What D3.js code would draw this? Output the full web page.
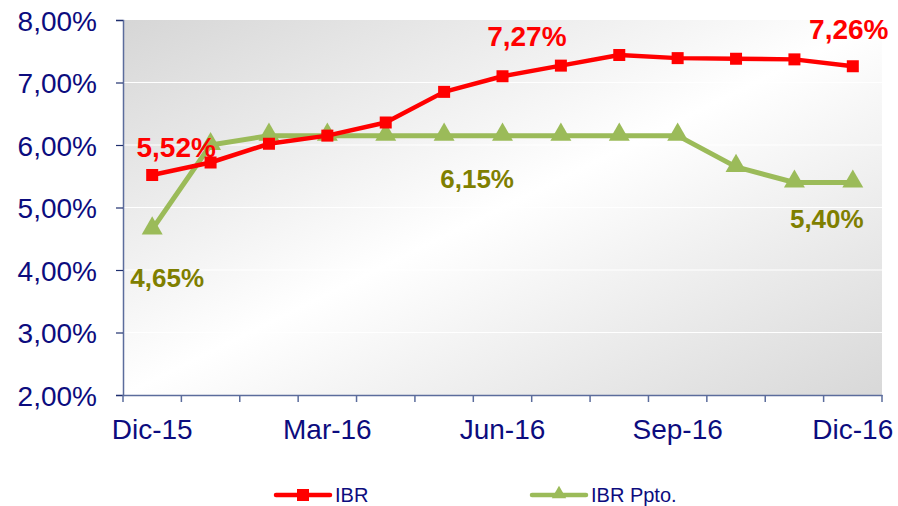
<!DOCTYPE html>
<html>
<head>
<meta charset="utf-8">
<script src="https://cdn.jsdelivr.net/npm/d3@7"></script>
<style>
  body { margin: 0; background: #fff; }
  svg { display: block; font-family: Arial, "Liberation Sans", sans-serif; }
</style>
</head>
<body>
<div id="chart"></div>
<script>
// data
var months = ['Dic-15', 'Ene-16', 'Feb-16', 'Mar-16', 'Abr-16', 'May-16', 'Jun-16',
              'Jul-16', 'Ago-16', 'Sep-16', 'Oct-16', 'Nov-16', 'Dic-16'];
var shownMonths = ['Dic-15', 'Mar-16', 'Jun-16', 'Sep-16', 'Dic-16'];
var ibr = [5.52, 5.72, 6.02, 6.15, 6.36, 6.85, 7.10, 7.27, 7.44, 7.39, 7.38, 7.37, 7.26];
var ibrPpto = [4.65, 6.00, 6.15, 6.15, 6.15, 6.15, 6.15, 6.15, 6.15, 6.15, 5.65, 5.40, 5.40];
var yTicks = [2, 3, 4, 5, 6, 7, 8];

// value labels: [month index, text]
var ibrLabels = [[0, '5,52%'], [7, '7,27%'], [12, '7,26%']];
var pptoLabels = [[0, '4,65%'], [5, '6,15%'], [12, '5,40%']];

var W = 898, H = 506;
var mLeft = 123, mRight = 882, mTop = 20, mBottom = 395;

var svg = d3.select('#chart').append('svg')
  .attr('width', W)
  .attr('height', H);

var x = d3.scaleBand().domain(months).range([mLeft, mRight]).padding(0);
var y = d3.scaleLinear().domain([2, 8]).range([mBottom, mTop]);
var fmt = v => v.toFixed(2).replace('.', ',') + '%';

// background gradient
var defs = svg.append('defs');
var grad = defs.append('linearGradient')
  .attr('id', 'bg')
  .attr('x1', 0).attr('y1', 0).attr('x2', 1).attr('y2', 1);
grad.append('stop').attr('offset', '0%').attr('stop-color', '#d6d6d6');
grad.append('stop').attr('offset', '50%').attr('stop-color', '#ffffff');
grad.append('stop').attr('offset', '100%').attr('stop-color', '#d8d8d8');

svg.append('rect')
  .attr('x', mLeft).attr('y', mTop)
  .attr('width', mRight - mLeft).attr('height', mBottom - mTop)
  .attr('fill', 'url(#bg)');

// gridlines
svg.append('g')
  .selectAll('line')
  .data(yTicks.filter(t => t > 2 && t < 8))
  .join('line')
    .attr('x1', mLeft).attr('x2', mRight)
    .attr('y1', d => y(d)).attr('y2', d => y(d))
    .attr('stroke', '#ffffff')
    .attr('stroke-width', 1.2);

var navy = '#0c0c7e';
var axisCol = '#5b6c9c';

// y axis
var yAxis = svg.append('g')
  .attr('transform', 'translate(' + mLeft + ',0)')
  .call(d3.axisLeft(y).tickValues(yTicks).tickFormat(fmt).tickSize(7).tickPadding(19));
yAxis.select('.domain').attr('stroke', axisCol).attr('stroke-width', 1.5);
yAxis.selectAll('.tick line').attr('stroke', '#1f2f6e').attr('stroke-width', 1.2);
yAxis.selectAll('text')
  .attr('fill', navy)
  .attr('font-size', '28px')
  .attr('font-family', 'Arial, "Liberation Sans", sans-serif')
  .attr('dy', '0.36em');

// x axis: labels at band centres, ticks on band edges
var xAxis = svg.append('g')
  .attr('transform', 'translate(0,' + mBottom + ')')
  .call(d3.axisBottom(x).tickSize(0).tickPadding(24)
    .tickFormat(d => shownMonths.indexOf(d) !== -1 ? d : ''));
xAxis.select('.domain').attr('stroke', axisCol).attr('stroke-width', 1.5);
xAxis.selectAll('text')
  .attr('fill', navy)
  .attr('font-size', '28px')
  .attr('font-family', 'Arial, "Liberation Sans", sans-serif');

var edges = months.map(m => x(m)).concat([mRight]);
svg.append('g')
  .selectAll('line')
  .data(edges)
  .join('line')
    .attr('x1', d => d).attr('x2', d => d)
    .attr('y1', mBottom).attr('y2', mBottom + 7)
    .attr('stroke', axisCol)
    .attr('stroke-width', 1.5);

var cx = (d, i) => x(months[i]) + x.bandwidth() / 2;
var line = d3.line().x(cx).y(d => y(d));

var red = '#ff0000', green = '#9bbb59', olive = '#7f7f00';

// IBR Ppto. (green, drawn first)
svg.append('path')
  .datum(ibrPpto)
  .attr('d', line)
  .attr('fill', 'none')
  .attr('stroke', green)
  .attr('stroke-width', 5)
  .attr('stroke-linejoin', 'round');

var tri = d3.symbol().type(d3.symbolTriangle).size(190);
svg.append('g')
  .selectAll('path')
  .data(ibrPpto)
  .join('path')
    .attr('d', tri)
    .attr('transform', (d, i) => 'translate(' + cx(d, i) + ',' + (y(d) - 1) + ')')
    .attr('fill', green);

// IBR (red)
svg.append('path')
  .datum(ibr)
  .attr('d', line)
  .attr('fill', 'none')
  .attr('stroke', red)
  .attr('stroke-width', 4.5)
  .attr('stroke-linejoin', 'round');

svg.append('g')
  .selectAll('rect')
  .data(ibr)
  .join('rect')
    .attr('x', (d, i) => cx(d, i) - 6)
    .attr('y', d => y(d) - 6)
    .attr('width', 12).attr('height', 12)
    .attr('fill', red);

// value labels
var ibrPos = { 0: [24, -18], 7: [-34, -20], 12: [-4, -27] };
svg.append('g')
  .selectAll('text')
  .data(ibrLabels)
  .join('text')
    .attr('x', d => cx(null, d[0]) + ibrPos[d[0]][0])
    .attr('y', d => y(ibr[d[0]]) + ibrPos[d[0]][1])
    .attr('text-anchor', 'middle')
    .attr('font-size', '28px')
    .attr('font-weight', 'bold')
    .attr('fill', red)
    .text(d => d[1]);

var pptoPos = { 0: [15, 58], 5: [33, 52], 12: [-26, 45] };
svg.append('g')
  .selectAll('text')
  .data(pptoLabels)
  .join('text')
    .attr('x', d => cx(null, d[0]) + pptoPos[d[0]][0])
    .attr('y', d => y(ibrPpto[d[0]]) + pptoPos[d[0]][1])
    .attr('text-anchor', 'middle')
    .attr('font-size', '26px')
    .attr('font-weight', 'bold')
    .attr('fill', olive)
    .text(d => d[1]);

// legend
var legend = svg.append('g').attr('transform', 'translate(0,495)');
var items = [
  { name: 'IBR', color: red, x: 276, marker: 'square' },
  { name: 'IBR Ppto.', color: green, x: 532, marker: 'triangle' }
];
items.forEach(function(it) {
  var g = legend.append('g').attr('transform', 'translate(' + it.x + ',0)');
  g.append('line')
    .attr('x1', 0).attr('x2', 54)
    .attr('stroke', it.color)
    .attr('stroke-width', 4.5)
    .attr('stroke-linecap', 'round');
  if (it.marker === 'square') {
    g.append('rect').attr('x', 21).attr('y', -6).attr('width', 12).attr('height', 12).attr('fill', it.color);
  } else {
    g.append('path').attr('d', d3.symbol().type(d3.symbolTriangle).size(90))
      .attr('transform', 'translate(27,-1)').attr('fill', it.color);
  }
  g.append('text')
    .attr('x', 59).attr('y', 7)
    .attr('font-size', '20px')
    .attr('fill', navy)
    .text(it.name);
});
</script>
</body>
</html>
